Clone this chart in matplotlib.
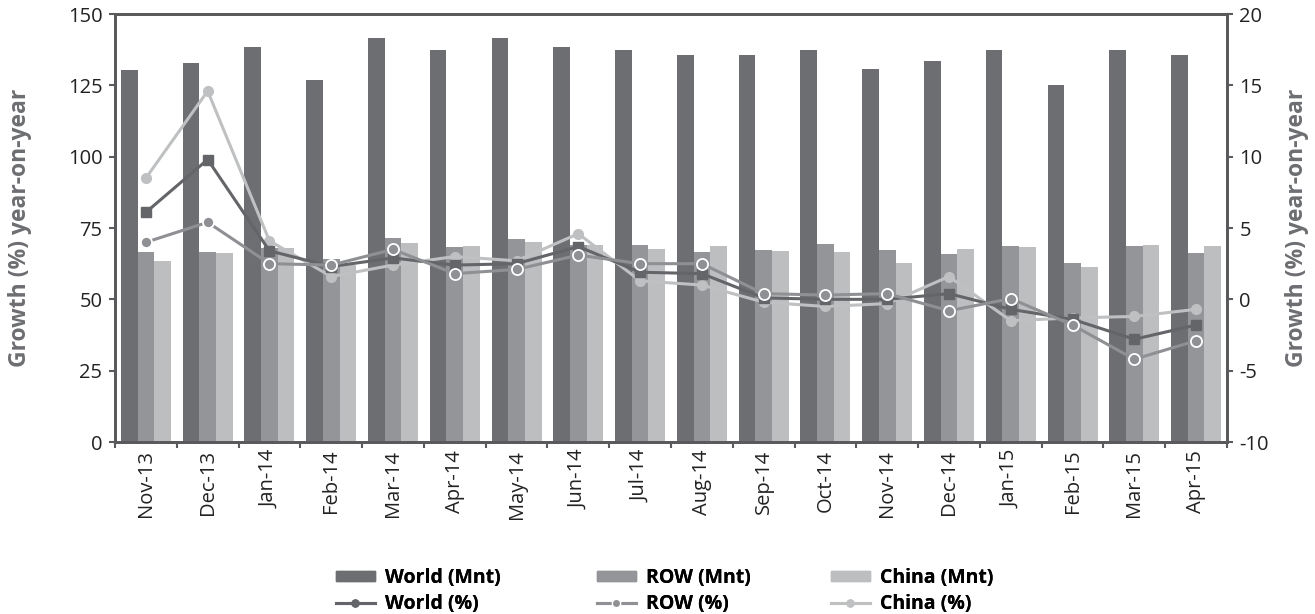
import matplotlib
matplotlib.use("Agg")
import matplotlib.pyplot as plt
import numpy as np
from matplotlib.lines import Line2D
from matplotlib.patches import Patch

categories = ["Nov-13", "Dec-13", "Jan-14", "Feb-14", "Mar-14", "Apr-14", "May-14", "Jun-14",
              "Jul-14", "Aug-14", "Sep-14", "Oct-14", "Nov-14", "Dec-14", "Jan-15", "Feb-15",
              "Mar-15", "Apr-15"]
world_mnt = [130.3, 132.8, 138.4, 126.8, 141.6, 137.3, 141.6, 138.4, 137.3, 135.6, 135.6, 137.3,
             130.7, 133.5, 137.3, 125.0, 137.3, 135.6]
row_mnt = [66.6, 66.6, 68.0, 64.1, 71.5, 68.3, 71.2, 69.0, 69.0, 66.6, 67.3, 69.4,
           67.3, 65.9, 68.7, 62.7, 68.7, 66.2]
china_mnt = [63.4, 66.2, 68.0, 62.0, 69.8, 68.7, 70.1, 69.0, 67.6, 68.7, 66.9, 66.6,
             62.7, 67.6, 68.3, 61.3, 69.0, 68.7]
world_pct = [6.1, 9.8, 3.4, 2.3, 2.9, 2.4, 2.5, 3.7, 1.9, 1.8, 0.1, 0.0,
             0.0, 0.4, -0.7, -1.4, -2.8, -1.8]
row_pct = [4.0, 5.4, 2.5, 2.4, 3.5, 1.8, 2.1, 3.1, 2.5, 2.5, 0.4, 0.3,
           0.4, -0.8, 0.05, -1.8, -4.2, -2.9]
china_pct = [8.5, 14.6, 4.1, 1.6, 2.4, 3.0, 2.7, 4.6, 1.3, 1.0, -0.2, -0.5,
             -0.3, 1.6, -1.5, -1.3, -1.2, -0.7]
bar_labels = ["World (Mnt)", "ROW (Mnt)", "China (Mnt)"]
line_labels = ["World (%)", "ROW (%)", "China (%)"]
left_ticks = [0, 25, 50, 75, 100, 125, 150]
right_ticks = [-10, -5, 0, 5, 10, 15, 20]
axis_title = "Growth (%) year-on-year"

c_world = "#6d6e71"
c_row = "#939598"
c_china = "#bcbec0"
c_world_l = "#646568"
c_row_l = "#8f9093"
c_china_l = "#bfc0c2"
spine_c = "#5a5a5c"
label_c = "#6d6e71"

plt.rcParams['font.family'] = ['Open Sans', 'DejaVu Sans']
plt.rcParams['axes.unicode_minus'] = False

W, H = 1315, 614
fig = plt.figure(figsize=(W/100, H/100), dpi=100)
L, R, T, B = 115, 1227, 14, 442
ax = fig.add_axes([L/W, 1-B/H, (R-L)/W, (B-T)/H])
x = np.arange(len(categories))
w = 0.27
ax.bar(x - w, world_mnt, w, color=c_world)
ax.bar(x, row_mnt, w, color=c_row)
ax.bar(x + w, china_mnt, w, color=c_china)
ax.set_xlim(-0.5, len(categories) - 0.5)
ax.set_ylim(left_ticks[0], left_ticks[-1])
ax.set_yticks(left_ticks)

ax2 = ax.twinx()
ax2.plot(x, china_pct, color=c_china_l, lw=2.2, marker='o', ms=7, mfc=c_china_l, mec=c_china_l, zorder=3)
ax2.plot(x, world_pct, color=c_world_l, lw=2.2, marker='s', ms=7, mfc=c_world_l, mec=c_world_l, zorder=4)
ax2.plot(x, row_pct, color=c_row_l, lw=2.2, marker='o', ms=8, mfc=c_row_l, mec='white', mew=1.3, zorder=5)
ax2.set_ylim(right_ticks[0], right_ticks[-1])
ax2.set_yticks(right_ticks)

ax.set_xticks(x)
ax.set_xticklabels(categories, rotation=90, fontsize=14.5)
ax.set_xticks(np.arange(len(categories) + 1) - 0.5, minor=True)
ax.tick_params(axis='x', which='major', length=0, pad=5.5)
ax.tick_params(axis='x', which='minor', length=4, width=1.5, color=spine_c)
ax.tick_params(axis='y', length=4, width=1.5, color=spine_c, labelsize=14.5, pad=5, labelcolor='#222222')
ax2.tick_params(axis='y', length=4, width=1.5, color=spine_c, labelsize=14.5, pad=5, labelcolor='#222222')
ax.tick_params(axis='x', labelcolor='#222222')

for a in (ax, ax2):
    for s in a.spines.values():
        s.set_color(spine_c)
        s.set_linewidth(2)

ax.set_ylabel(axis_title, fontsize=16.5, fontweight='bold', color=label_c)
ax2.set_ylabel(axis_title, fontsize=16.5, fontweight='bold', color=label_c, rotation=90)
ax.yaxis.set_label_coords((20 - L)/(R - L), 0.5)
ax2.yaxis.set_label_coords((1297 - L)/(R - L), 0.5)
ax.yaxis.label.set_va('center')
ax2.yaxis.label.set_va('center')

pairs = [
    (Patch(color=c_world), Line2D([], [], color=c_world_l, lw=2.2, marker='o', ms=5)),
    (Patch(color=c_row), Line2D([], [], color=c_row_l, lw=2.2, marker='o', ms=6, mec='white', mew=1)),
    (Patch(color=c_china), Line2D([], [], color=c_china_l, lw=2.2, marker='o', ms=5)),
]
anchors = [336, 597, 831]
for (hb, hl), bl, ll, ax_x in zip(pairs, bar_labels, line_labels, anchors):
    leg = fig.legend([hb, hl], [bl, ll], loc='upper left', bbox_to_anchor=(ax_x/W, 1-568/H),
                     frameon=False, borderaxespad=0, borderpad=0,
                     prop={'family': ['Open Sans', 'DejaVu Sans'], 'weight': 'bold', 'size': 14},
                     handlelength=2.0, handleheight=0.45, labelspacing=0.3, handletextpad=0.5)
    fig.add_artist(leg)

fig.savefig("out.png", dpi=100)
